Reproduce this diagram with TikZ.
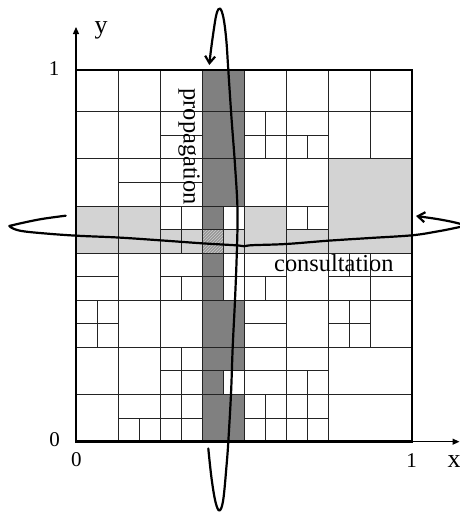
\documentclass[tikz,border=0pt]{standalone}
\usepackage{fontspec}
\setmainfont{Liberation Serif}
\usetikzlibrary{arrows.meta,patterns}
\definecolor{darkcol}{RGB}{128,128,128}
\definecolor{lightcol}{RGB}{211,211,211}
\definecolor{gridcol}{RGB}{35,35,35}
\definecolor{hatchcol}{RGB}{150,150,150}
\definecolor{hatchline}{RGB}{205,205,205}
\begin{document}
\begin{tikzpicture}[x=1pt,y=-1pt,
  gridline/.style={draw=gridcol,line width=0.9pt},
  darkfill/.style={fill=darkcol},
  lightfill/.style={fill=lightcol},
  whitefill/.style={fill=white},
  hatchfill/.style={fill=hatchcol,postaction={pattern=north east lines,pattern color=hatchline}},
  curve/.style={line width=2.2pt,line cap=round,line join=round},
  barb/.style={-{Straight Barb[length=7pt,width=10pt]}},
  axis/.style={line width=1.3pt,-{Triangle[length=7pt,width=6pt]}},
  digit/.style={inner sep=0pt,anchor=base,font=\fontsize{21}{21}\selectfont},
  letter/.style={inner sep=0pt,anchor=base,font=\fontsize{26}{26}\selectfont},
  word/.style={inner sep=0pt,anchor=base west,font=\fontsize{24.4}{24.4}\selectfont},
]
\useasboundingbox (0,0) rectangle (460,512);
\clip (0,0) rectangle (460,512);

% fills
\fill[darkfill] (202,70) rectangle (244,441.7);
\fill[whitefill] (223,206) rectangle (244,229.7);
\fill[hatchfill] (202,229.7) rectangle (223,253.3);
\fill[lightfill] (223,229.7) rectangle (244,253.3);
\fill[whitefill] (223,253.3) rectangle (244,300);
\fill[whitefill] (223,370.7) rectangle (244,394.3);
\fill[lightfill] (76,206) rectangle (160,253.3);
\fill[lightfill] (160,229.7) rectangle (202,253.3);
\fill[lightfill] (244,206) rectangle (286,253.3);
\fill[lightfill] (286,229.7) rectangle (328,253.3);
\fill[lightfill] (328,158.3) rectangle (412,253.3);

% main grid
\foreach \x in {118,160,202,244,286,328} \draw[gridline] (\x,70) -- (\x,441.7);
\draw[gridline] (370,70) -- (370,158.3);
\draw[gridline] (370,253.3) -- (370,347);
\foreach \y in {111.7,158.3,253.3,300,347,394.3} \draw[gridline] (76,\y) -- (412,\y);
\draw[gridline] (76,206) -- (328,206);

% row 1
\draw[gridline] (160,135) -- (202,135);
\draw[gridline] (244,135) -- (328,135);
\draw[gridline] (265,111.7) -- (265,158.3);
\draw[gridline] (307,135) -- (307,158.3);
% row 2
\draw[gridline] (118,182.2) -- (202,182.2);
% row 3
\draw[gridline] (160,229.7) -- (244,229.7);
\draw[gridline] (181,206) -- (181,253.3);
\draw[gridline] (223,206) -- (223,253.3);
\draw[gridline] (286,229.7) -- (328,229.7);
\draw[gridline] (307,206) -- (307,229.7);
% row 4
\draw[gridline] (76,276.7) -- (118,276.7);
\draw[gridline] (160,276.7) -- (286,276.7);
\draw[gridline] (328,276.7) -- (412,276.7);
\draw[gridline] (181,276.7) -- (181,300);
\draw[gridline] (223,253.3) -- (223,300);
\draw[gridline] (265,276.7) -- (265,300);
\draw[gridline] (349,253.3) -- (349,276.7);
% row 5
\draw[gridline] (76,323.7) -- (118,323.7);
\draw[gridline] (97,300) -- (97,347);
\draw[gridline] (244,323.7) -- (286,323.7);
\draw[gridline] (328,323.7) -- (370,323.7);
\draw[gridline] (349,300) -- (349,347);
% row 6
\draw[gridline] (160,370.7) -- (328,370.7);
\draw[gridline] (181,347) -- (181,394.3);
\draw[gridline] (223,370.7) -- (223,394.3);
\draw[gridline] (307,370.7) -- (307,394.3);
% row 7
\draw[gridline] (118,418) -- (202,418);
\draw[gridline] (244,418) -- (328,418);
\draw[gridline] (139,418) -- (139,441.7);
\draw[gridline] (181,394.3) -- (181,441.7);
\draw[gridline] (265,394.3) -- (265,441.7);
\draw[gridline] (307,394.3) -- (307,441.7);

% axes and border
\coordinate (origin) at (76,441.7);
\coordinate (ytip) at (76,27);
\coordinate (xtip) at (459.5,441.7);
\draw[axis] (origin) -- (ytip);
\draw[axis] (origin) -- (xtip);
\draw[line width=2.8pt] (76,70) rectangle (412,441.7);

% labels
\node[letter] (ylab) at (101,33.5) {y};
\node[letter] (xlab) at (454,467) {x};
\node[digit] (yone) at (54,75) {1};
\node[digit] (yzero) at (54.5,446.5) {0};
\node[digit] (xzero) at (76.3,466.7) {0};
\node[digit] (xone) at (411.5,467) {1};
\node[word,rotate=-90] (prop) at (183.5,88.3) {propagation};
\node[word] (cons) at (274,271.7) {consultation};

% curves
\draw[curve,barb] plot[smooth,tension=0.6] coordinates {
  (208.3,448.5) (211.5,478) (215.5,502) (219.5,510.5) (223.2,500) (226.5,466)
  (228.3,441.7) (231,394) (232.7,347) (235,300) (236.8,253) (237.5,210)
  (235,165) (231.5,118) (228.3,70) (226.3,40) (223.5,18) (220,8.5)
  (216.5,14) (213.3,33) (210.6,53) (209.3,65)};
\draw[curve,barb] plot[smooth,tension=0.6] coordinates {
  (65.7,215.7) (40,219.3) (13.3,225) (10,226.7) (20,230.7) (43.3,233.3)
  (76.7,235.7) (118,237.5) (160,240.3) (202,243.3) (236,245.3) (244,246.2)
  (252,245.2) (286,244) (328,240.7) (370,238) (412,235.3) (437,231.5)
  (455,228) (464,225.5) (455,222.5) (440,219.5) (427,217.5) (416,216)};
\end{tikzpicture}
\end{document}
